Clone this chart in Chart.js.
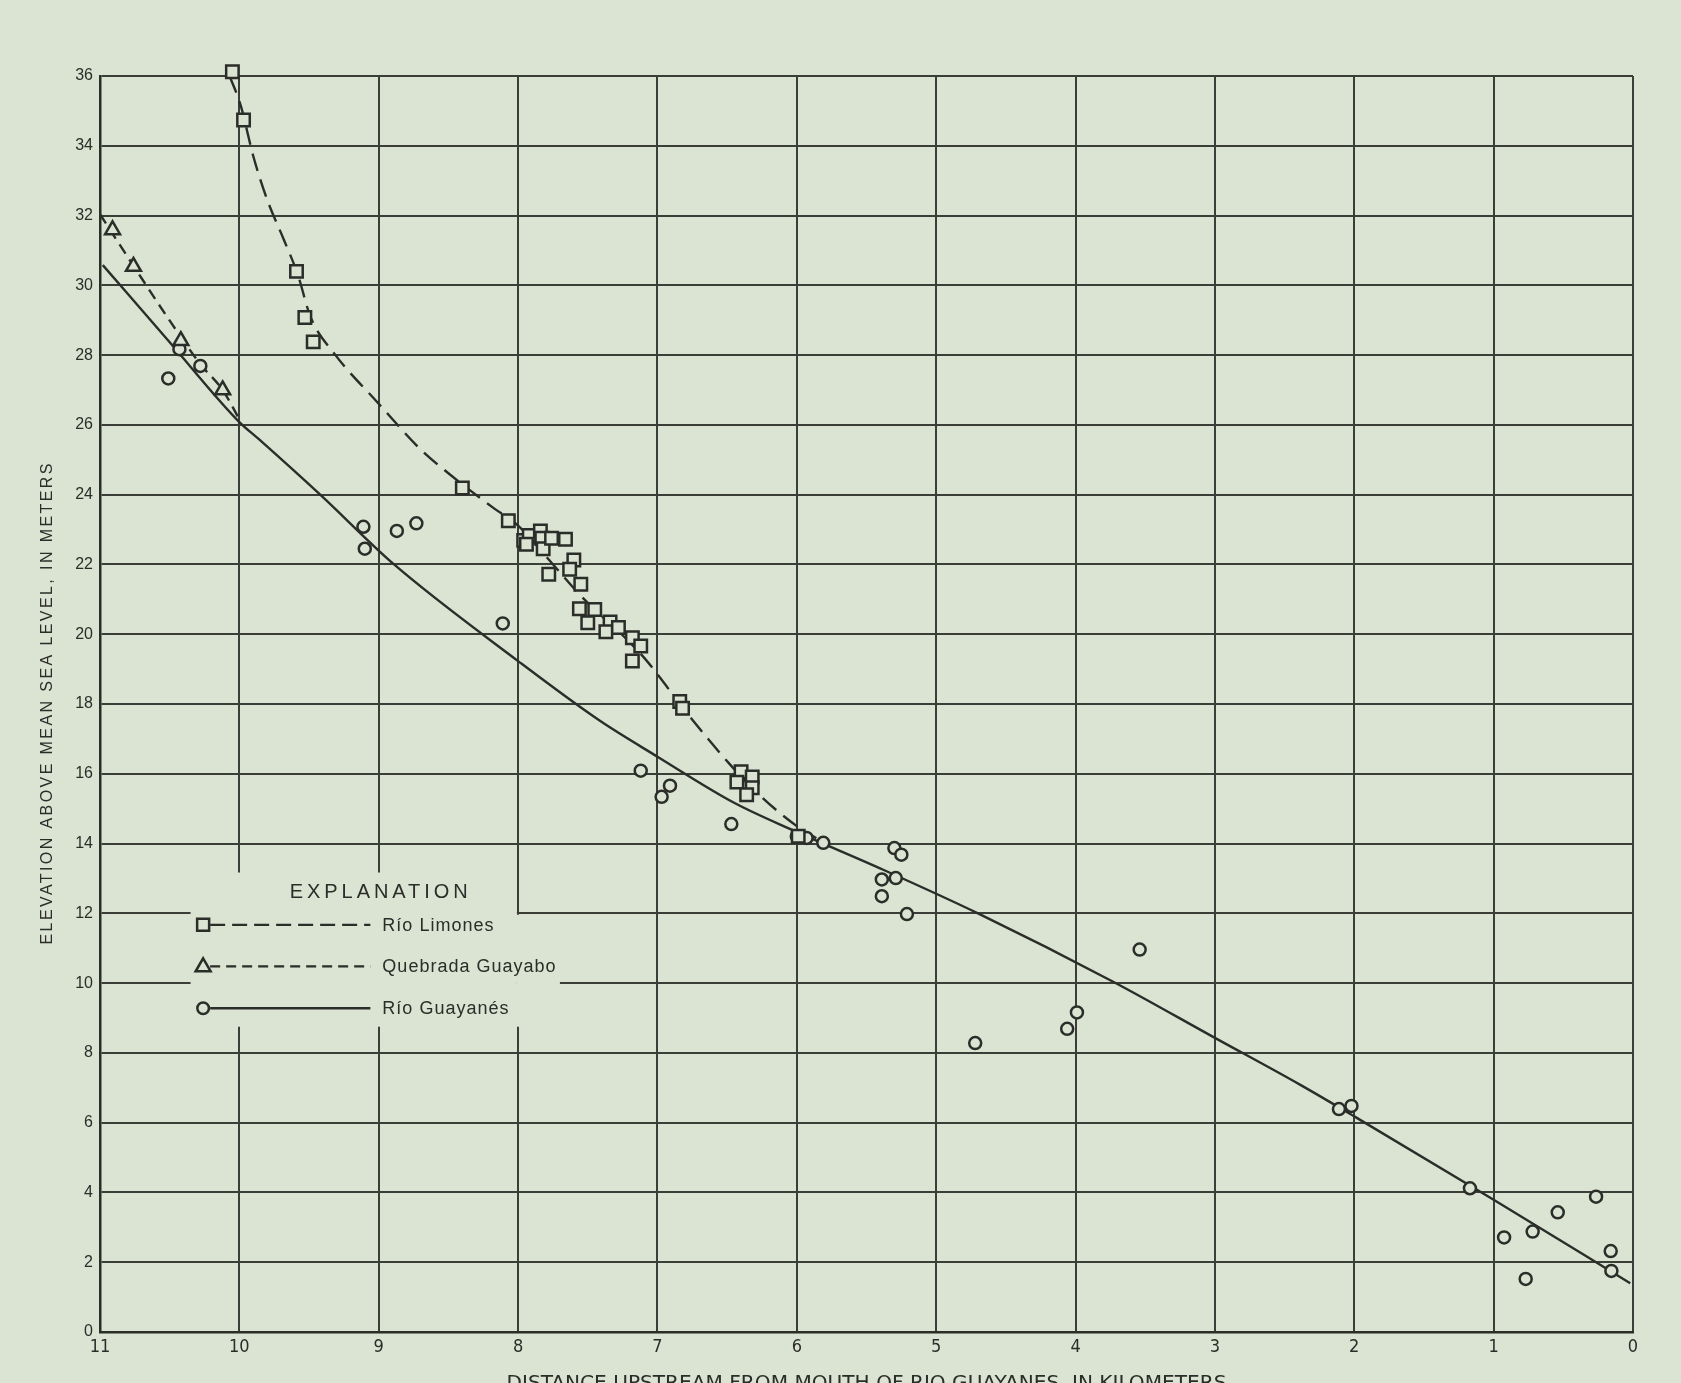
<!DOCTYPE html>
<html>
<head>
<meta charset="utf-8">
<title>Río Guayanés profile</title>
<script src="https://cdn.jsdelivr.net/npm/chart.js@4.4.1/dist/chart.umd.min.js"></script>
<style>
  html, body { margin: 0; padding: 0; background: #dbe3d3; }
  #wrap { width: 1681px; height: 1383px; }
</style>
</head>
<body>
<div id="wrap"><canvas id="profile-chart" width="1681" height="1383"></canvas></div>
<script>
// Axis ticks
const distTicks = [0, 1, 2, 3, 4, 5, 6, 7, 8, 9, 10, 11];
const elevTicks = [0, 2, 4, 6, 8, 10, 12, 14, 16, 18, 20, 22, 24, 26, 28, 30, 32, 34, 36];

// Río Limones survey points (squares)
const limonesDist = [10.05, 9.97, 9.59, 9.53, 9.47, 8.40, 8.07, 7.96, 7.92, 7.94, 7.84, 7.83, 7.82, 7.76,
  7.66, 7.78, 7.60, 7.63, 7.55, 7.56, 7.45, 7.50, 7.34, 7.37, 7.28, 7.18, 7.12, 7.18, 6.84, 6.82,
  6.40, 6.43, 6.32, 6.32, 6.36, 5.99];
const limonesElev = [36.12, 34.74, 30.40, 29.08, 28.38, 24.19, 23.25, 22.69, 22.83, 22.58, 22.96, 22.75, 22.45, 22.75,
  22.72, 21.72, 22.13, 21.86, 21.43, 20.73, 20.71, 20.33, 20.35, 20.07, 20.19, 19.90, 19.66, 19.23, 18.07, 17.88,
  16.06, 15.76, 15.91, 15.60, 15.40, 14.21];

// Quebrada Guayabo survey points (triangles)
const guayaboDist = [10.91, 10.76, 10.42, 10.12];
const guayaboElev = [31.59, 30.54, 28.41, 27.00];

// Río Guayanés survey points (circles)
const guayanesDist = [10.51, 10.43, 10.28, 9.11, 9.10, 8.87, 8.73, 8.11, 7.12, 6.91, 6.97, 6.47,
  6.00, 5.93, 5.81, 5.30, 5.25, 5.39, 5.29, 5.39, 5.21, 3.54, 4.72, 3.99, 4.06,
  2.11, 2.02, 1.17, 0.925, 0.77, 0.72, 0.54, 0.265, 0.16, 0.155];
const guayanesElev = [27.33, 28.17, 27.69, 23.08, 22.45, 22.96, 23.18, 20.31, 16.09, 15.66, 15.34, 14.56,
  14.21, 14.16, 14.02, 13.87, 13.68, 12.97, 13.01, 12.49, 11.98, 10.96, 8.28, 9.16, 8.69,
  6.39, 6.48, 4.12, 2.71, 1.52, 2.88, 3.43, 3.88, 2.32, 1.75];

// Drawn profile curves, read along the lines of the original
const limonesCurveDist = [10.07, 9.99, 9.90, 9.80, 9.68, 9.58, 9.49, 9.32, 9.01, 8.70, 8.48, 8.17, 8.01, 7.76,
  7.55, 7.22, 7.09, 7.00, 6.79, 6.48, 6.26, 6.00, 5.86];
const limonesCurveElev = [36.0, 35.15, 33.7, 32.45, 31.3, 30.3, 29.1, 28.05, 26.65, 25.3, 24.55, 23.6, 23.15, 22.05,
  21.1, 19.85, 19.3, 18.85, 17.75, 16.27, 15.36, 14.5, 14.15];
const guayaboCurveDist = [11.0, 10.90, 10.76, 10.49, 10.28, 10.12, 10.0];
const guayaboCurveElev = [32.04, 31.42, 30.56, 28.93, 27.74, 27.0, 26.16];
const guayanesCurveDist = [10.98, 10.5, 10.0, 9.86, 9.42, 8.89, 8.0, 7.41, 7.0, 6.45, 6.01, 5.38,
  4.70, 3.73, 3.0, 2.39, 2.0, 1.0, 0.02];
const guayanesCurveElev = [30.58, 28.37, 26.08, 25.59, 24.0, 22.0, 19.23, 17.51, 16.49, 15.17, 14.35, 13.25,
  12.0, 10.04, 8.43, 7.09, 6.18, 3.79, 1.40];

const paper = '#dbe3d3';
const ink = '#2a2d28';
const gridInk = '#3a3e37';

const toXY = (xs, ys) => xs.map((x, i) => ({ x: x, y: ys[i] }));

// text with fixed total width (letter spacing spread evenly)
function spacedText(ctx, text, x, y, width) {
    ctx.letterSpacing = '0px';
    const w0 = ctx.measureText(text).width;
    const ls = (width - w0) / (text.length - 1);
    ctx.letterSpacing = ls + 'px';
    ctx.textAlign = 'left';
    ctx.fillText(text, x - width / 2, y);
    ctx.letterSpacing = '0px';
}

function marker(ctx, style, x, y) {
    ctx.save();
    ctx.strokeStyle = ink;
    ctx.fillStyle = paper;
    ctx.lineWidth = 2.5;
    ctx.beginPath();
    if (style === 'rect') {
        ctx.rect(x - 6, y - 6, 12, 12);
    } else if (style === 'triangle') {
        ctx.moveTo(x, y - 8);
        ctx.lineTo(x + 7.5, y + 5);
        ctx.lineTo(x - 7.5, y + 5);
        ctx.closePath();
    } else {
        ctx.arc(x, y, 5.8, 0, Math.PI * 2);
    }
    ctx.fill();
    ctx.stroke();
    ctx.restore();
}

// Paper background, legend box and axis titles
const paperPlugin = {
    id: 'paper',
    beforeDraw(chart) {
        const ctx = chart.ctx;
        ctx.save();
        ctx.fillStyle = paper;
        ctx.fillRect(0, 0, chart.width, chart.height);
        ctx.restore();
    },
    beforeDatasetsDraw(chart) {
        // clear the grid behind the explanation
        const ctx = chart.ctx;
        const xs = chart.scales.x, ys = chart.scales.y;
        const left = xs.getPixelForValue(10.35);
        const mid = xs.getPixelForValue(8.0) - 1.2;
        const right = xs.getPixelForValue(7.7);
        const top = ys.getPixelForValue(13.17);
        const step = ys.getPixelForValue(12) + 1.4;
        const bottom = ys.getPixelForValue(8.75);
        ctx.save();
        ctx.fillStyle = paper;
        ctx.fillRect(left, top, mid - left, bottom - top);
        ctx.fillRect(mid, step, right - mid, bottom - step);
        ctx.restore();
    },
    afterDraw(chart) {
        const ctx = chart.ctx;
        const xs = chart.scales.x, ys = chart.scales.y;
        const area = chart.chartArea;
        ctx.save();
        ctx.fillStyle = ink;
        ctx.strokeStyle = ink;

        // legend
        const lx = xs.getPixelForValue(10.26);
        const lineEnd = xs.getPixelForValue(9.06);
        const textX = lineEnd + 12;
        ctx.font = '20px "Liberation Sans", Arial, sans-serif';
        ctx.textBaseline = 'middle';
        spacedText(ctx, 'EXPLANATION', xs.getPixelForValue(9.0), ys.getPixelForValue(12.6), 178);

        const rows = [
            { label: 'Río Limones', style: 'rect', dash: [15, 7], elev: 11.67 },
            { label: 'Quebrada Guayabo', style: 'triangle', dash: [10, 6], elev: 10.48 },
            { label: 'Río Guayanés', style: 'circle', dash: [], elev: 9.28 }
        ];
        ctx.font = '18px "Liberation Sans", Arial, sans-serif';
        rows.forEach(r => {
            const y = ys.getPixelForValue(r.elev);
            ctx.save();
            ctx.lineWidth = 2.4;
            ctx.setLineDash(r.dash);
            ctx.beginPath();
            ctx.moveTo(lx + 7, y);
            ctx.lineTo(lineEnd, y);
            ctx.stroke();
            ctx.restore();
            marker(ctx, r.style, lx, y);
            ctx.letterSpacing = '1px';
            ctx.textAlign = 'left';
            ctx.fillText(r.label, textX, y + 1);
            ctx.letterSpacing = '0px';
        });

        // y axis title
        ctx.save();
        ctx.translate(48, (area.top + area.bottom) / 2);
        ctx.rotate(-Math.PI / 2);
        ctx.font = '16px "Liberation Sans", Arial, sans-serif';
        ctx.textBaseline = 'middle';
        spacedText(ctx, 'ELEVATION ABOVE MEAN SEA LEVEL, IN METERS', 0, 0, 481);
        ctx.restore();

        // x axis title (bottom edge of sheet cuts it)
        ctx.save();
        ctx.font = '19px "DejaVu Sans Condensed", "Liberation Sans", sans-serif';
        ctx.textBaseline = 'alphabetic';
        const title = 'DISTANCE UPSTREAM FROM MOUTH OF RIO GUAYANES, IN KILOMETERS';
        const w = ctx.measureText(title).width;
        const cx = (area.left + area.right) / 2;
        ctx.translate(cx, 1389);
        ctx.scale(720 / w, 1);
        ctx.textAlign = 'center';
        ctx.fillText(title, 0, 0);
        ctx.restore();

        ctx.restore();
    }
};

const pointStyleSet = (style, radius) => ({
    showLine: false,
    clip: false,
    pointStyle: style,
    pointRadius: radius,
    pointHoverRadius: radius,
    pointBorderWidth: 2.5,
    pointBorderColor: ink,
    pointBackgroundColor: paper
});

const curveSet = (dash) => ({
    showLine: true,
    borderColor: ink,
    borderWidth: 2.4,
    borderDash: dash,
    pointRadius: 0,
    cubicInterpolationMode: 'monotone',
    fill: false
});

const profileChart = new Chart(document.getElementById('profile-chart').getContext('2d'), {
    type: 'scatter',
    data: {
        datasets: [
            Object.assign({ label: 'Río Limones', data: toXY(limonesDist, limonesElev) }, pointStyleSet('rect', 8.8)),
            Object.assign({ label: 'Quebrada Guayabo', data: toXY(guayaboDist, guayaboElev) }, pointStyleSet('triangle', 8.6)),
            Object.assign({ label: 'Río Guayanés', data: toXY(guayanesDist, guayanesElev) }, pointStyleSet('circle', 6.0)),
            Object.assign({ label: 'Limones curve', data: toXY(limonesCurveDist, limonesCurveElev) }, curveSet([18, 9])),
            Object.assign({ label: 'Guayabo curve', data: toXY(guayaboCurveDist, guayaboCurveElev) }, curveSet([11, 7])),
            Object.assign({ label: 'Guayanés curve', data: toXY(guayanesCurveDist, guayanesCurveElev) }, curveSet([]))
        ]
    },
    options: {
        responsive: false,
        animation: false,
        layout: { padding: { left: 0, right: 48, top: 76, bottom: 0 } },
        plugins: {
            legend: { display: false },
            tooltip: { enabled: false }
        },
        scales: {
            x: {
                type: 'linear',
                reverse: true,
                min: 0,
                max: 11,
                afterBuildTicks: s => { s.ticks = distTicks.map(v => ({ value: v })); },
                afterFit: s => { s.height = 51; },
                grid: { color: gridInk, lineWidth: 2, drawTicks: false },
                border: { color: ink, width: 2.5 },
                ticks: {
                    padding: 5,
                    color: ink,
                    maxRotation: 0,
                    font: { family: '"DejaVu Sans Condensed", "Liberation Sans", sans-serif', size: 18 }
                }
            },
            y: {
                type: 'linear',
                min: 0,
                max: 36,
                afterBuildTicks: s => { s.ticks = elevTicks.map(v => ({ value: v })); },
                afterFit: s => { s.width = 100; },
                grid: { color: gridInk, lineWidth: 2, drawTicks: false },
                border: { color: ink, width: 2.5 },
                ticks: {
                    padding: 7,
                    color: ink,
                    font: { family: '"Liberation Sans", Arial, sans-serif', size: 16 }
                }
            }
        }
    },
    plugins: [paperPlugin]
});
</script>
</body>
</html>
